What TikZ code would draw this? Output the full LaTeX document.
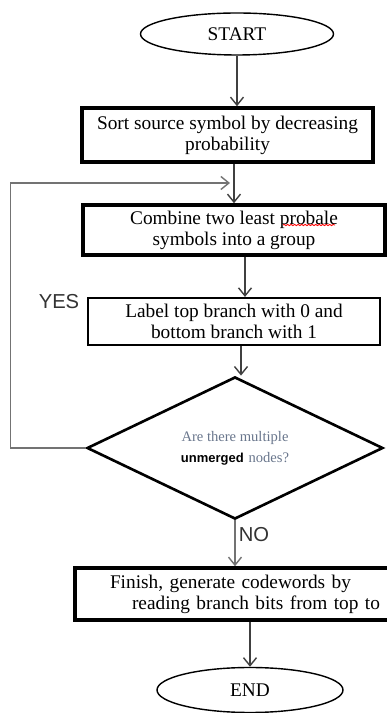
\documentclass[tikz,border=0pt]{standalone}
\usepackage{fontspec}
\setmainfont{Liberation Serif}
\setsansfont{Liberation Sans}
\usetikzlibrary{shapes.geometric,arrows.meta,decorations.pathmorphing}
\definecolor{qtext}{RGB}{105,118,140}
\definecolor{loopgray}{RGB}{115,115,115}

\begin{document}
\begin{tikzpicture}[
  font=\fontsize{11}{12}\selectfont,
  >={Straight Barb[length=1.6mm,width=2.6mm]},
  term/.style={draw, ellipse, line width=0.8pt, inner sep=0pt},
  procbox/.style={draw, line width=2pt, align=center, inner sep=0pt},
  decide/.style={draw, diamond, line width=1.5pt, inner sep=0pt, align=center},
  flow/.style={->, line width=0.8pt, draw=black!75},
  side/.style={font=\sffamily\fontsize{11.5}{13}\selectfont, text=black!80},
  squiggle/.style={red, line width=0.5pt, decorate, decoration={snake, amplitude=0.35pt, segment length=2pt}}
]
\useasboundingbox (0,0) rectangle (7.74,14.26);
% ---------------- main column -----------------------------------------
\node[term, minimum width=3.86cm, minimum height=0.84cm] (start) at (4.74,13.58) {START};
\node[procbox, minimum width=5.82cm, minimum height=1.08cm] (sort) at (4.55,11.56)
  {Sort source symbol by decreasing\\probability};
\node[procbox, minimum width=6.04cm, minimum height=1.0cm] (combine) at (4.68,9.66)
  {Combine two least probale\\symbols into a group};
\node[procbox, line width=1.2pt, minimum width=5.84cm, minimum height=0.94cm] (branch) at (4.68,7.83)
  {Label top branch with 0 and\\bottom branch with 1};
\node[decide, minimum width=5.92cm, minimum height=2.5cm] (check) at (4.70,5.30)
  {\textcolor{qtext}{\fontsize{8.3}{8.5}\selectfont Are there multiple}\\
   {\sffamily\bfseries\fontsize{7.4}{8.5}\selectfont unmerged} \textcolor{qtext}{\fontsize{8.3}{8.5}\selectfont nodes?}};
\node[procbox, align=left, minimum height=1.04cm, text width=6.3cm, inner xsep=0.35cm] (finish) at (5.0,2.38)
  {\hspace*{0.35cm}Finish, generate codewords by\\\hspace*{0.79cm}reading branch bits from top to};
\node[term, minimum width=3.72cm, minimum height=0.9cm] (stop) at (5.0,0.46) {END};
% spell-check mark under "probale"
\draw[squiggle] ([xshift=0.98cm, yshift=0.10cm]combine.center) -- ([xshift=2.02cm, yshift=0.10cm]combine.center);
% ---------------- side labels -----------------------------------------
\node[side] (yes) at (1.18,8.22) {YES};
\node[side] (no) at (5.08,3.56) {NO};
% ---------------- connectors ------------------------------------------
\coordinate (loopin) at (4.60,10.60);
\draw[flow] (start.south) -- (start.south |- sort.north);
\draw[flow] ([xshift=0.13cm]sort.south) -- ([xshift=0.13cm]sort.south |- combine.north);
\draw[flow] ([xshift=0.22cm]combine.south) -- ([xshift=0.22cm]combine.south |- branch.north);
\draw[flow] ([xshift=0.14cm]branch.south) -- ([xshift=0.14cm]branch.south |- check.north);
\draw[flow, draw=loopgray] (check.south) -- (check.south |- finish.north);
\draw[flow] (finish.south -| stop.north) -- (stop.north);
\draw[flow, draw=loopgray] (check.west) -- ++(-1.5,0) |- (loopin);
\end{tikzpicture}
\end{document}
